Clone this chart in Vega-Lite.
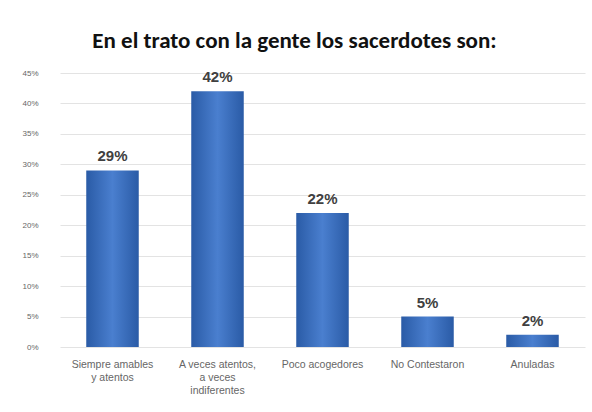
{
  "$schema": "https://vega.github.io/schema/vega-lite/v6.json",
  "autosize": {"type": "none"},
  "padding": {"left": 60, "top": 73, "right": 7, "bottom": 65},
  "width": 525,
  "height": 274,
  "background": "white",
  "title": {
    "text": "En el trato con la gente los sacerdotes son:",
    "font": "Carlito, Calibri, Liberation Sans, sans-serif",
    "fontSize": 23,
    "fontWeight": "bold",
    "color": "#111111",
    "offset": 16,
    "dx": -28,
    "anchor": "middle"
  },
  "data": {
    "values": [
      {"categoria": "Siempre amables y atentos", "valor": 0.29, "etiqueta": "29%"},
      {"categoria": "A veces atentos, a veces indiferentes", "valor": 0.42, "etiqueta": "42%"},
      {"categoria": "Poco acogedores", "valor": 0.22, "etiqueta": "22%"},
      {"categoria": "No Contestaron", "valor": 0.05, "etiqueta": "5%"},
      {"categoria": "Anuladas", "valor": 0.02, "etiqueta": "2%"}
    ]
  },
  "encoding": {
    "x": {
      "field": "categoria",
      "type": "nominal",
      "sort": null,
      "scale": {"paddingInner": 0.5, "paddingOuter": 0.25},
      "axis": {
        "title": null,
        "labelAngle": 0,
        "labelFontSize": 10.5,
        "labelColor": "#666666",
        "labelFont": "Liberation Sans",
        "ticks": false,
        "domain": false,
        "labelPadding": 12,
        "labelExpr": "datum.value == 'Siempre amables y atentos' ? ['Siempre amables', 'y atentos'] : datum.value == 'A veces atentos, a veces indiferentes' ? ['A veces atentos,', 'a veces', 'indiferentes'] : datum.value",
        "labelLineHeight": 13,
        "labelLimit": 130
      }
    },
    "y": {
      "field": "valor",
      "type": "quantitative",
      "scale": {"domain": [0, 0.45]},
      "axis": {
        "title": null,
        "format": ".0%",
        "values": [0, 0.05, 0.1, 0.15, 0.2, 0.25, 0.3, 0.35, 0.4, 0.45],
        "labelFontSize": 8,
        "labelColor": "#666666",
        "labelFont": "Liberation Sans",
        "ticks": false,
        "domain": false,
        "gridColor": "#e3e3e3",
        "labelPadding": 22
      }
    }
  },
  "layer": [
    {
      "mark": {
        "type": "bar",
        "color": {
          "gradient": "linear",
          "x1": 0, "y1": 0, "x2": 1, "y2": 0,
          "stops": [
            {"offset": 0, "color": "#2a5ba6"},
            {"offset": 0.5, "color": "#4a7fcf"},
            {"offset": 1, "color": "#2a5ba6"}
          ]
        }
      }
    },
    {
      "mark": {
        "type": "text",
        "dy": -14,
        "fontSize": 15,
        "fontWeight": "bold",
        "font": "Liberation Sans",
        "color": "#404040"
      },
      "encoding": {"text": {"field": "etiqueta"}}
    }
  ],
  "config": {"view": {"stroke": null}}
}
